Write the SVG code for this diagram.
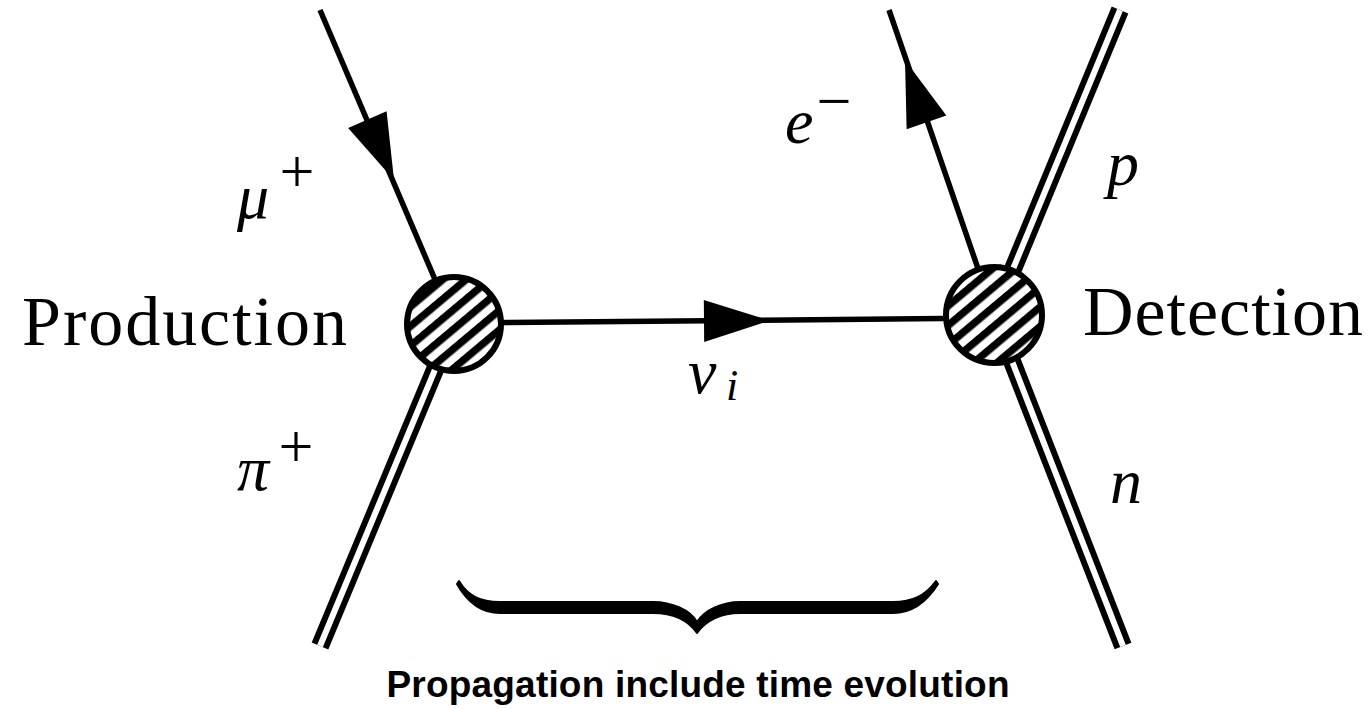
<svg xmlns="http://www.w3.org/2000/svg" width="1370" height="709" viewBox="0 0 1370 709">
<style>
.fermion{stroke:#000;stroke-width:5.5;fill:none;stroke-linecap:butt}
.dblout{stroke:#000;stroke-width:18;fill:none;stroke-linecap:butt}
.dblin{stroke:#fff;stroke-width:6;fill:none;stroke-linecap:butt}
.blob{stroke:#000;stroke-width:6;fill:url(#hatch)}
.big{font-family:"Liberation Serif",serif;font-size:70px;fill:#000}
.math{font-family:"Liberation Serif",serif;font-style:italic;font-size:64px;fill:#000}
.sup{font-family:"Liberation Serif",serif;font-size:62px;fill:#000}
.sub{font-family:"Liberation Serif",serif;font-style:italic;font-size:44px;fill:#000}
.caption{font-family:"Liberation Sans",Arial,sans-serif;font-weight:bold;font-size:37px;fill:#000}
</style>
<defs>
<pattern id="hatch" patternUnits="userSpaceOnUse" width="15" height="15" patternTransform="rotate(-40)">
<rect x="0" y="0" width="15" height="15" fill="#fff"/>
<rect x="0" y="0" width="15" height="7.5" fill="#000"/>
</pattern>
<path id="arrowhead" d="M0,0 L-66,-21 L-66,21 Z" fill="#000"/>
</defs>
<g id="connectors">
<g id="mu-line"><line class="fermion" x1="320" y1="10" x2="454" y2="324"/><use href="#arrowhead" transform="translate(394,180) rotate(66.2)"/></g>
<g id="pi-line"><line class="dblout" x1="454" y1="324" x2="320" y2="646"/><line class="dblin" x1="454" y1="324" x2="320" y2="646"/></g>
<g id="nu-line"><line class="fermion" x1="454" y1="323" x2="994" y2="318"/><use href="#arrowhead" transform="translate(770,320.5) rotate(-0.5)"/></g>
<g id="e-line"><line class="fermion" x1="889" y1="10" x2="994" y2="315"/><use href="#arrowhead" transform="translate(905,60) rotate(-109)"/></g>
<g id="p-line"><line class="dblout" x1="994" y1="315" x2="1120" y2="10"/><line class="dblin" x1="994" y1="315" x2="1120" y2="10"/></g>
<g id="n-line"><line class="dblout" x1="994" y1="315" x2="1123" y2="646"/><line class="dblin" x1="994" y1="315" x2="1123" y2="646"/></g>
</g>
<g id="production"><circle class="blob" cx="454" cy="324" r="47"/><text class="big" x="22" y="345" textLength="325">Production</text></g>
<g id="detection"><circle class="blob" cx="994" cy="315" r="48"/><text class="big" x="1083" y="335" textLength="280">Detection</text></g>
<g id="label-mu"><text class="math" x="237" y="218">μ</text><text class="sup" x="297" y="192" text-anchor="middle">+</text></g>
<g id="label-pi"><text class="math" x="237" y="490">π</text><text class="sup" x="296" y="467" text-anchor="middle">+</text></g>
<g id="label-nu"><text class="math" x="688" y="393">ν</text><text class="sub" x="726" y="400">i</text></g>
<g id="label-e"><text class="math" x="785" y="143">e</text><text class="sup" x="834" y="122" text-anchor="middle">−</text></g>
<g id="label-p"><text class="math" x="1107" y="185">p</text></g>
<g id="label-n"><text class="math" x="1110" y="503">n</text></g>
<g id="brace">
<path d="M457,584 C466,600 480,613 500,613 L653,613 C672,613 688,620 697,633 C706,620 722,613 740,613 L893,613 C913,613 928,600 938,584 L936,581 C925,596 912,602 893,602 L740,602 C722,602 705,610 697,622 C690,610 672,602 653,602 L500,602 C480,602 468,596 459,581 Z" fill="#000" stroke="#000" stroke-width="2" stroke-linejoin="round"/>
<text class="caption" x="698" y="697" text-anchor="middle" textLength="623">Propagation include time evolution</text>
</g>
</svg>
